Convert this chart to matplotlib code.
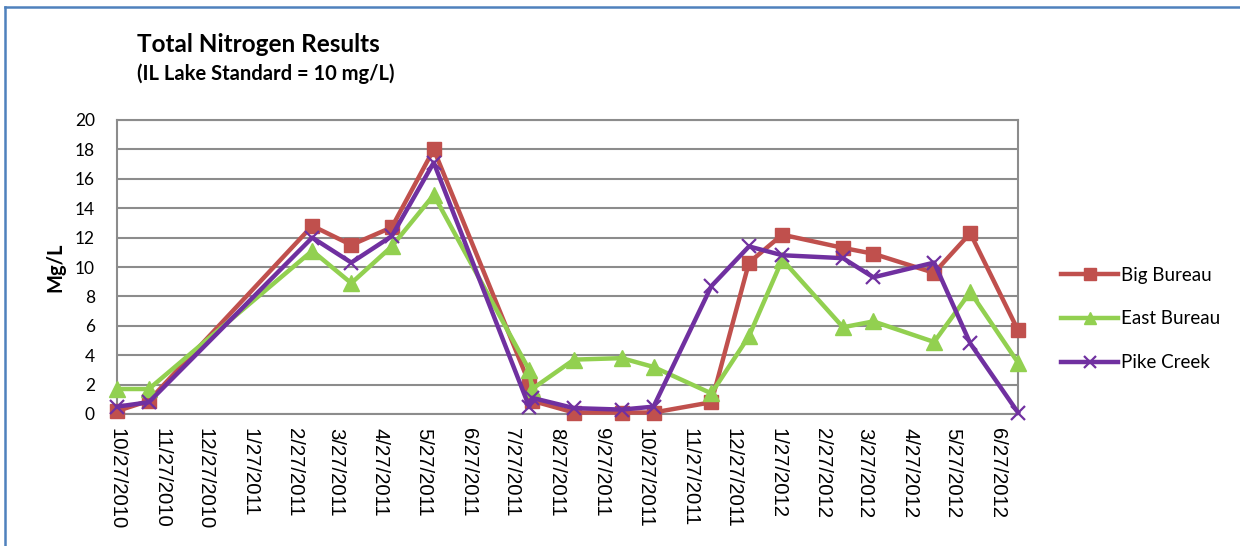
import datetime as dt
import matplotlib
matplotlib.use("Agg")
import matplotlib.pyplot as plt
from matplotlib.lines import Line2D

# fechas de muestreo
fechas = ["2010-10-27", "2010-11-18", "2011-03-11", "2011-04-07", "2011-05-05",
          "2011-06-03", "2011-08-08", "2011-08-10", "2011-09-08", "2011-10-11",
          "2011-11-02", "2011-12-12", "2012-01-07", "2012-01-30", "2012-03-12",
          "2012-04-02", "2012-05-14", "2012-06-08", "2012-07-11"]

big_bureau = [0.2, 0.9, 12.8, 11.5, 12.7, 18.0, 2.1, 0.9, 0.1, 0.1,
              0.1, 0.8, 10.3, 12.2, 11.3, 10.9, 9.6, 12.3, 5.7]
east_bureau = [1.7, 1.7, 11.1, 8.9, 11.4, 14.9, 3.0, 1.7, 3.7, 3.8,
               3.2, 1.4, 5.3, 10.5, 5.9, 6.3, 4.9, 8.3, 3.5]
pike_creek = [0.5, 0.8, 12.0, 10.3, 12.1, 17.1, 0.5, 1.1, 0.4, 0.3,
              0.5, 8.7, 11.4, 10.8, 10.6, 9.3, 10.3, 4.8, 0.1]

# etiquetas del eje x: el dia 27 de cada mes
etiquetas_x = [(2010, 10), (2010, 11), (2010, 12), (2011, 1), (2011, 2), (2011, 3),
               (2011, 4), (2011, 5), (2011, 6), (2011, 7), (2011, 8), (2011, 9),
               (2011, 10), (2011, 11), (2011, 12), (2012, 1), (2012, 2), (2012, 3),
               (2012, 4), (2012, 5), (2012, 6)]

x = [dt.datetime.strptime(f, "%Y-%m-%d") for f in fechas]
ticks = [dt.datetime(a, m, 27) for a, m in etiquetas_x]
tick_labels = [f"{t.month}/{t.day}/{t.year}" for t in ticks]

W, H = 1240, 546
fig = plt.figure(figsize=(W / 100, H / 100), dpi=100)
ax = fig.add_axes([117 / W, 1 - 414 / H, (1018 - 117) / W, (414 - 120) / H])

rojo = "#C0504D"
verde = "#92D050"
morado = "#7030A0"

ax.plot(x, big_bureau, color=rojo, lw=3.2, marker="s", ms=10, label="Big Bureau", clip_on=False, zorder=3)
ax.plot(x, east_bureau, color=verde, lw=3.2, marker="^", ms=11, label="East Bureau", clip_on=False, zorder=4)
ax.plot(x, pike_creek, color=morado, lw=3.2, marker="x", ms=10, mew=1.6, label="Pike Creek", clip_on=False, zorder=5)

ax.set_xlim(x[0], x[-1])
ax.set_ylim(0, 20)
ax.set_yticks(range(0, 21, 2))
ax.set_xticks(ticks)
ax.set_xticklabels(tick_labels, rotation=270, ha="center", va="top",
                   family="Liberation Sans", fontsize=14.7)
for lab in ax.get_yticklabels():
    lab.set_family("Lato")
    lab.set_fontsize(12.5)
ax.tick_params(axis="both", length=0)
ax.tick_params(axis="x", pad=10)
ax.tick_params(axis="y", pad=16)

ax.grid(axis="y", color="#8c8c8c", lw=1.5)
ax.set_axisbelow(True)
for s in ax.spines.values():
    s.set_color("#8c8c8c")
    s.set_linewidth(1.5)

ax.set_ylabel("Mg/L", family="Lato", fontweight="bold", fontsize=14.5, labelpad=7)

fig.text(137 / W, 1 - 44 / H, "Total Nitrogen Results", family="Lato", fontweight="bold",
         fontsize=17.5, va="center", ha="left")
fig.text(137 / W, 1 - 74 / H, "(IL Lake Standard = 10 mg/L)", family="Lato", fontweight="bold",
         fontsize=14.5, va="center", ha="left")

leg = fig.legend(loc="center left", bbox_to_anchor=(1052 / W, 1 - 319 / H), frameon=False,
                 prop={"family": "Lato", "size": 13.5}, handlelength=3.0, handletextpad=0.2,
                 labelspacing=1.42, borderpad=0, markerscale=0.85)

# borde azul del area del grafico
fig.add_artist(Line2D([5 / W, 1], [1 - 7 / H, 1 - 7 / H], color="#4F81BD", lw=1.8))
fig.add_artist(Line2D([5 / W, 5 / W], [0, 1 - 7 / H], color="#4F81BD", lw=1.8))

fig.savefig("out.png", dpi=100)
